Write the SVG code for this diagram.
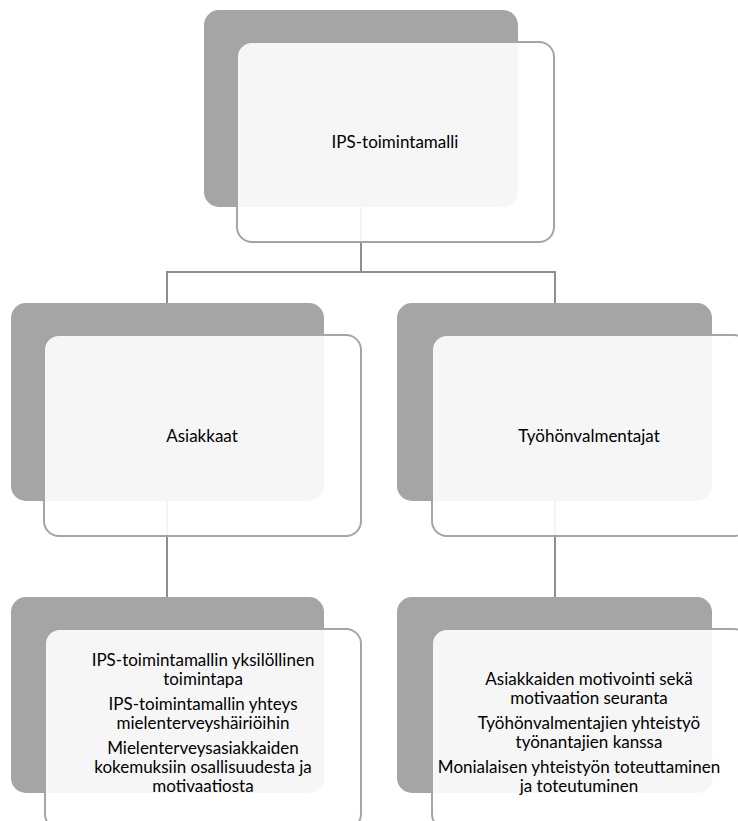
<svg xmlns="http://www.w3.org/2000/svg" width="738" height="821" viewBox="0 0 738 821">
<style>
.back{fill:#a5a5a5}
.front{fill:#ffffff;fill-opacity:0.9;stroke:#a5a5a5;stroke-width:2}
.conn{fill:none;stroke:#8e8e8e;stroke-width:2}
text{font-family:Lato,"Open Sans","Liberation Sans",sans-serif;font-size:17px;fill:#000;text-anchor:middle}
</style>
<rect width="738" height="821" fill="#ffffff"/>
<g id="connectors">
<path class="conn" d="M361,207 V272 M167,272 H555 M167,271 V303 M555,271 V303"/>
<path class="conn" d="M167,501 V597"/>
<path class="conn" d="M555,501 V597"/>
</g>
<g id="node-top">
<rect class="back" x="204" y="10" width="314" height="197" rx="15"/>
<rect class="front" x="237" y="42" width="317" height="200" rx="15"/>
<text x="395" y="148">IPS-toimintamalli</text>
</g>
<g id="node-asiakkaat">
<rect class="back" x="11" y="303" width="313" height="198" rx="15"/>
<rect class="front" x="44" y="335" width="317" height="201" rx="15"/>
<text x="202" y="442">Asiakkaat</text>
</g>
<g id="node-tyohonvalmentajat">
<rect class="back" x="397" y="303" width="315" height="198" rx="15"/>
<rect class="front" x="432" y="335" width="317" height="201" rx="15"/>
<text x="589" y="442">Työhönvalmentajat</text>
</g>
<g id="node-asiakkaat-details">
<rect class="back" x="11" y="597" width="313" height="196" rx="15"/>
<rect class="front" x="45" y="629" width="316" height="200" rx="15"/>
<text x="203" y="666">IPS-toimintamallin yksilöllinen</text>
<text x="203" y="685">toimintapa</text>
<text x="203" y="710">IPS-toimintamallin yhteys</text>
<text x="203" y="729">mielenterveyshäiriöihin</text>
<text x="203" y="754">Mielenterveysasiakkaiden</text>
<text x="203" y="773">kokemuksiin osallisuudesta ja</text>
<text x="203" y="792">motivaatiosta</text>
</g>
<g id="node-tyohonvalmentajat-details">
<rect class="back" x="397" y="597" width="315" height="196" rx="15"/>
<rect class="front" x="432" y="629" width="317" height="200" rx="15"/>
<text x="589" y="685">Asiakkaiden motivointi sekä</text>
<text x="589" y="704">motivaation seuranta</text>
<text x="589" y="729">Työhönvalmentajien yhteistyö</text>
<text x="589" y="748">työnantajien kanssa</text>
<text x="579" y="773">Monialaisen yhteistyön toteuttaminen</text>
<text x="579" y="792">ja toteutuminen</text>
</g>
</svg>
